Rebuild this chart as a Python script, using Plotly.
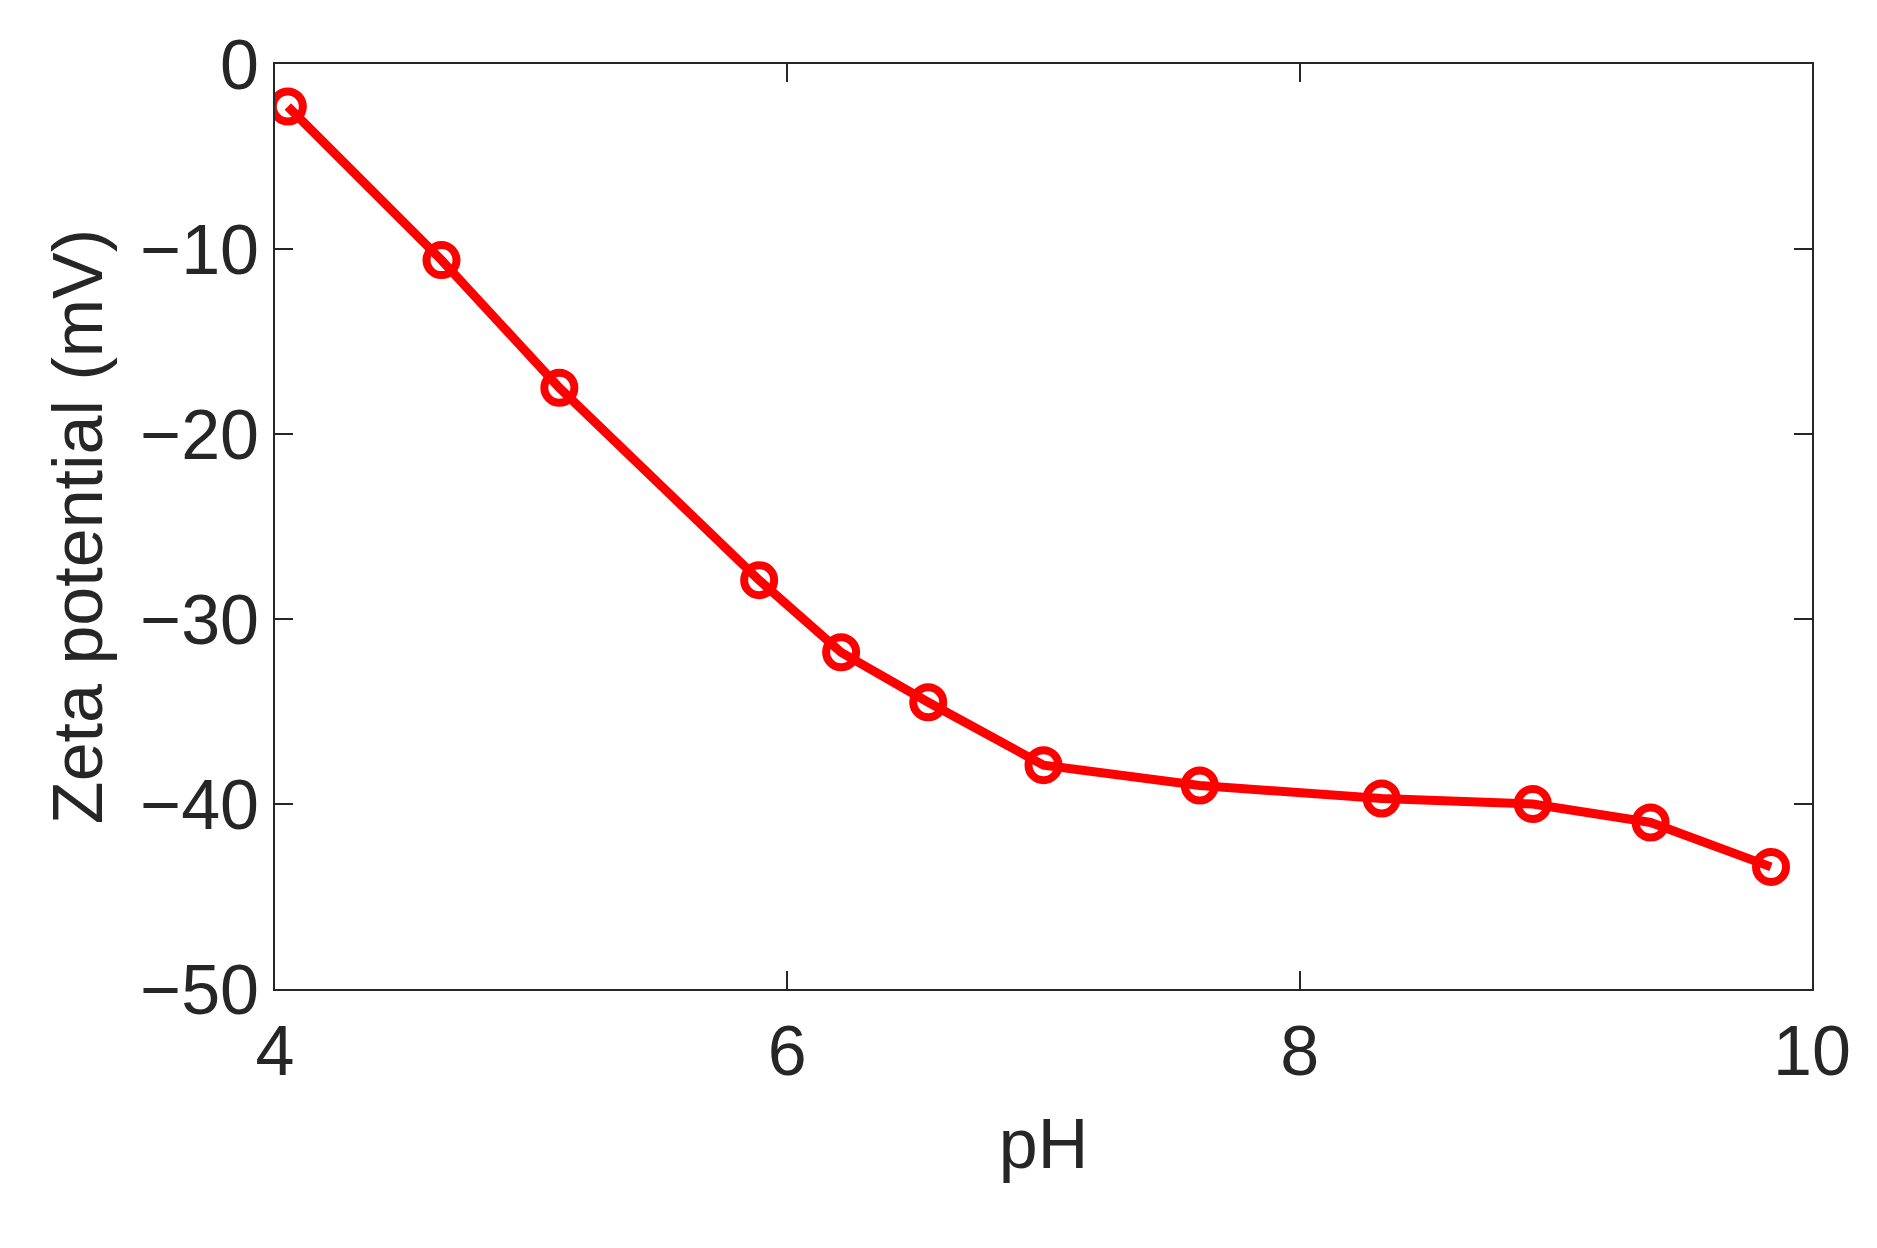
import plotly.graph_objects as go

ph = [4.05, 4.65, 5.11, 5.89, 6.21, 6.55, 7.0, 7.61, 8.32, 8.91, 9.37, 9.84]
zeta = [-2.3, -10.6, -17.5, -27.9, -31.8, -34.5, -37.9, -39.0, -39.7, -40.0, -41.0, -43.4]

fig = go.Figure(go.Scatter(
    x=ph, y=zeta, mode="lines+markers",
    line=dict(color="red", width=9),
    marker=dict(symbol="circle-open", size=30, color="red", line=dict(width=8, color="red")),
))
font = dict(family="Liberation Sans, Arial", size=70, color="#262626")
axis = dict(showgrid=False, zeroline=False, showline=True, mirror="ticks", linecolor="#262626",
            linewidth=2, ticks="inside", ticklen=18, tickwidth=2, tickcolor="#262626", tickfont=font)
fig.update_layout(
    width=1877, height=1248, plot_bgcolor="white", paper_bgcolor="white",
    margin=dict(l=267, r=73, t=56, b=267), showlegend=False,
    xaxis=dict(range=[4, 10], tickvals=[4, 6, 8, 10], title=dict(text="pH", font=font, standoff=30), **axis),
    yaxis=dict(range=[-50, 0], tickvals=[-50, -40, -30, -20, -10, 0], title=dict(text="Zeta potential (mV)", font=font, standoff=15), **axis),
)
fig.write_html("out.html")
